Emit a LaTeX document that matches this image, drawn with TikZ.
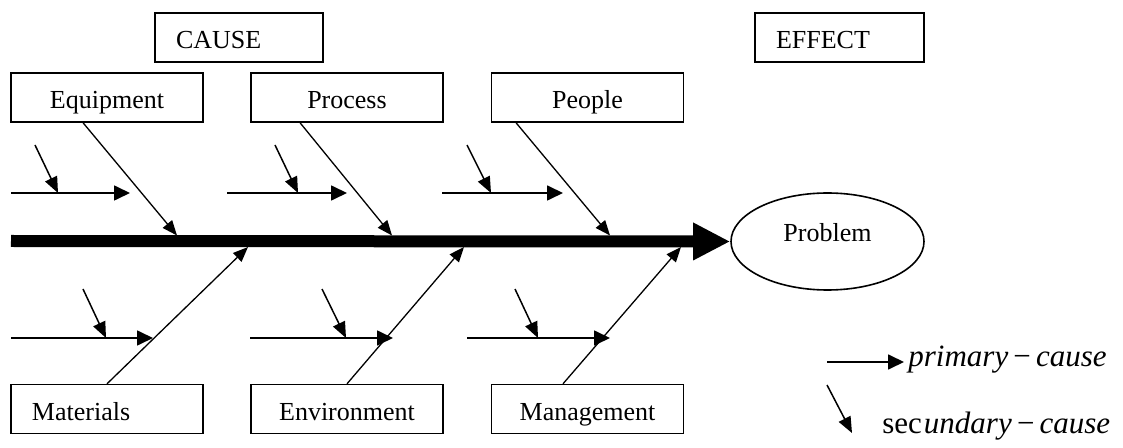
\documentclass[tikz,border=0pt]{standalone}
\usepackage{fontspec}
\setmainfont{Liberation Serif}
\usetikzlibrary{arrows.meta,shapes.geometric}

\begin{document}
\begin{tikzpicture}[x=0.5pt, y=-0.5pt, font=\fontsize{13}{15}\selectfont,
  box/.style={draw, line width=0.7pt, minimum width=96pt, minimum height=24.5pt,
    inner sep=0pt, text height=13.5pt, text depth=2pt},
  tagbox/.style={box, minimum width=0pt, align=left, inner xsep=10.5pt, text width=#1},
  problem/.style={ellipse, draw, line width=0.8pt, minimum width=96.5pt,
    minimum height=48.5pt, inner sep=0pt, text height=8pt, text depth=8pt},
  spine/.style={line width=6pt, -{Triangle[length=18.5pt,width=17.5pt]}},
  bone/.style={line width=0.65pt, -{Triangle[length=7.5pt,width=6pt]}},
  prim/.style={line width=0.85pt, -{Triangle[length=8pt,width=7.5pt]}},
  subcause/.style={line width=0.75pt, -{Triangle[length=8pt,width=6.5pt]}},
  legend/.style={anchor=base west, inner sep=0pt, font=\fontsize{15.5}{18}\selectfont}]
  \useasboundingbox (0,0) rectangle (1123,448);

  % headings
  \node[tagbox=63pt] (cause) at (239,37.5) {CAUSE};
  \node[tagbox=63.5pt] (effect) at (839.5,37.5) {EFFECT};

  % cause categories
  \node[box] (equip) at (107,97.5) {Equipment};
  \node[box] (proc) at (347,97.5) {Process};
  \node[box] (people) at (587.5,97.5) {People};
  \node[tagbox=75pt] (mat) at (107,409) {Materials};
  \node[box] (env) at (347,409) {Environment};
  \node[box] (mgmt) at (587.5,409) {Management};

  % effect
  \node[problem] (prob) at (827.5,241.5) {Problem};

  % spine
  \coordinate (tail) at (11,241);
  \draw[spine] (tail) -- (prob.west);

  % points where the bones meet the spine
  \coordinate (s1) at (177,235.5);
  \coordinate (s2) at (392,235.5);
  \coordinate (s3) at (610,235.5);
  \coordinate (s4) at (248,247);
  \coordinate (s5) at (464,247);
  \coordinate (s6) at (681,247);

  % upper bones
  \draw[bone] ([xshift=-12pt]equip.south) -- (s1);
  \draw[bone] ([xshift=-23.5pt]proc.south) -- (s2);
  \draw[bone] ([xshift=-35.75pt]people.south) -- (s3);

  % lower bones
  \draw[bone] (mat.north) -- (s4);
  \draw[bone] (env.north) -- (s5);
  \draw[bone] ([xshift=-12.25pt]mgmt.north) -- (s6);

  % primary causes
  \coordinate (p1) at (11,193);   \coordinate (q1) at (130,193);
  \coordinate (p2) at (227,193);  \coordinate (q2) at (347,193);
  \coordinate (p3) at (442,193);  \coordinate (q3) at (563,193);
  \coordinate (p4) at (11,338);   \coordinate (q4) at (153,338);
  \coordinate (p5) at (250,338);  \coordinate (q5) at (393,338);
  \coordinate (p6) at (467,338);  \coordinate (q6) at (610,338);
  \draw[prim] (p1) -- (q1);
  \draw[prim] (p2) -- (q2);
  \draw[prim] (p3) -- (q3);
  \draw[prim] (p4) -- (q4);
  \draw[prim] (p5) -- (q5);
  \draw[prim] (p6) -- (q6);

  % secondary causes
  \coordinate (u1) at (35,145);   \coordinate (v1) at (58,193);
  \coordinate (u2) at (275,145);  \coordinate (v2) at (298,193);
  \coordinate (u3) at (467,145);  \coordinate (v3) at (491,193);
  \coordinate (u4) at (83,289);   \coordinate (v4) at (106,338);
  \coordinate (u5) at (322,289);  \coordinate (v5) at (346,338);
  \coordinate (u6) at (515,289);  \coordinate (v6) at (538,338);
  \draw[subcause] (u1) -- (v1);
  \draw[subcause] (u2) -- (v2);
  \draw[subcause] (u3) -- (v3);
  \draw[subcause] (u4) -- (v4);
  \draw[subcause] (u5) -- (v5);
  \draw[subcause] (u6) -- (v6);

  % legend
  \coordinate (lp) at (827,362);
  \node[legend] (lprim) at (908,366) {\textit{primary}\,−\,\textit{cause}};
  \draw[prim, shorten >=2pt] (lp) -- (lprim.west |- lp);
  \coordinate (ls) at (827,385);
  \coordinate (lt) at (852,433);
  \draw[subcause] (ls) -- (lt);
  \node[legend] (lsec) at (882,433) {sec\kern1pt\textit{undary}\,−\,\textit{cause}};
\end{tikzpicture}
\end{document}
